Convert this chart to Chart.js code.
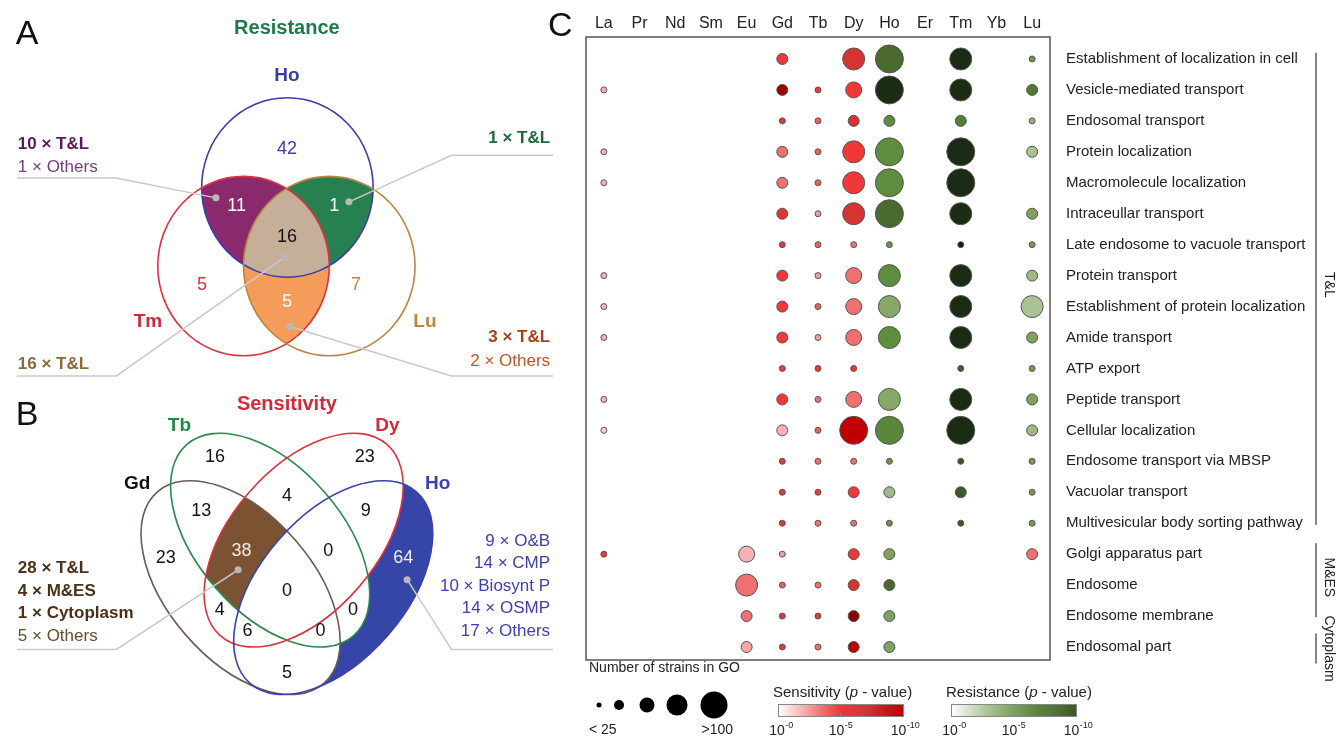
<!DOCTYPE html>
<html>
<head>
<meta charset="utf-8">
<script src="https://cdn.jsdelivr.net/npm/chart.js@4.4.1/dist/chart.umd.min.js"></script>
<style>
  body { margin: 0; background: #fff; width: 1340px; height: 736px; overflow: hidden; position: relative; }
  #bubble { position: absolute; left: 540px; top: 0; }
  #venn { position: absolute; left: 0; top: 0; }
</style>
</head>
<body>
<canvas id="bubble" width="800" height="736"></canvas>
<canvas id="venn" width="560" height="736"></canvas>
<script>
const FAMILY = '"Liberation Sans", Arial, Helvetica, sans-serif';

// ---------- panel A: resistance venn (Ho, Tm, Lu) ----------
// regions: Ho only, Tm only, Lu only, Ho&Tm, Ho&Lu, Tm&Lu, all three
const resCounts = [42, 5, 7, 11, 1, 5, 16];
const resNoteHoTm = ['10 × T&L', '1 × Others'];
const resNoteHoLu = ['1 × T&L'];
const resNoteAll = ['16 × T&L'];
const resNoteTmLu = ['3 × T&L', '2 × Others'];

// ---------- panel B: sensitivity venn (Gd, Tb, Dy, Ho) ----------
// regions: Gd, Tb, Dy, Ho, Gd&Tb, Tb&Dy, Dy&Ho, Gd&Dy, Tb&Ho, Gd&Ho,
//          Gd&Tb&Dy, Tb&Dy&Ho, Gd&Dy&Ho, Gd&Tb&Ho, all four
const sensCounts = [23, 16, 23, 64, 13, 4, 9, 4, 0, 5, 38, 0, 6, 0, 0];
const sensNoteLeft = ['28 × T&L', '4 × M&ES', '1 × Cytoplasm', '5 × Others'];
const sensNoteRight = ['9 × O&B', '14 × CMP', '10 × Biosynt P', '14 × OSMP', '17 × Others'];

// ---------- panel C: GO enrichment bubbles ----------
const elements = ['La', 'Pr', 'Nd', 'Sm', 'Eu', 'Gd', 'Tb', 'Dy', 'Ho', 'Er', 'Tm', 'Yb', 'Lu'];
const goTerms = [
  'Establishment of localization in cell', 'Vesicle-mediated transport', 'Endosomal transport',
  'Protein localization', 'Macromolecule localization', 'Intraceullar transport',
  'Late endosome to vacuole transport', 'Protein transport', 'Establishment of protein localization',
  'Amide transport', 'ATP export', 'Peptide transport', 'Cellular localization',
  'Endosome transport via MBSP', 'Vacuolar transport', 'Multivesicular body sorting pathway',
  'Golgi apparatus part', 'Endosome', 'Endosome membrane', 'Endosomal part'
];
// size class: number of strains in GO (1 = <25 ... 5 = >100), 0 = none
// logp: -log10(p); positive = sensitivity, negative = resistance
const sizeLa = [0,1,0,1,1,0,0,1,1,1,0,1,1,0,0,0,1,0,0,0];
const logpLa = [0,2,0,2,2,0,0,2,2,2,0,2,1.2,0,0,0,5,0,0,0];
const sizeEu = [0,0,0,0,0,0,0,0,0,0,0,0,0,0,0,0,3,4,2,2];
const logpEu = [0,0,0,0,0,0,0,0,0,0,0,0,0,0,0,0,2,3.5,3.5,2.2];
const sizeGd = [2,2,1,2,2,2,1,2,2,2,1,2,2,1,1,1,1,1,1,1];
const logpGd = [5,12,6,3.5,3.5,6.5,6,5,5,5,5.5,5,2,5.5,6,6,2.5,4,6,6];
const sizeTb = [0,1,1,1,1,1,1,1,1,1,1,1,1,1,1,1,0,1,1,1];
const logpTb = [0,5.5,4,4,4,2.5,4,2.5,4,2.5,5.5,3.5,4,3.5,5.5,3.5,0,3.5,5.5,3.5];
const sizeDy = [4,3,2,4,4,4,1,3,3,3,1,3,5,1,2,1,2,2,2,2];
const logpDy = [7,5,7,5,5,7,3.5,3.5,3.5,3.5,5.5,3.5,10,3.5,5,3.5,5,7,13,10];
const sizeHo = [5,5,2,5,5,5,1,4,4,4,0,4,5,1,2,1,2,2,2,2];
const logpHo = [-9,-14,-6.5,-6.5,-6.5,-9,-6,-6.5,-4.5,-6.5,0,-4.5,-7,-6,-3.5,-6,-5,-9,-5,-5];
const sizeTm = [4,4,2,5,5,4,1,4,4,4,1,4,5,1,2,1,0,0,0,0];
const logpTm = [-14,-14,-7.5,-14,-14,-14,-15,-14,-14,-14,-10,-14,-14,-10,-10,-10,0,0,0,0];
const sizeLu = [1,2,1,2,0,2,1,2,4,2,1,2,2,1,1,1,2,0,0,0];
const logpLu = [-6,-8,-4,-3,0,-5,-5.5,-3.5,-3,-5,-5.5,-5,-3.5,-5.5,-5.5,-5.5,3.5,0,0,0];

const groupNames = ['T&L', 'M&ES', 'Cytoplasm'];

// ---------- styling ----------
const radiusOf = [0, 3, 5.5, 8, 11, 14];
const redStops = [[0,[255,255,255]],[2,[245,178,178]],[3.5,[239,112,112]],[5,[240,56,56]],[7,[214,52,52]],[10,[192,0,0]],[13,[138,0,0]]];
const greenStops = [[0,[255,255,255]],[3,[168,194,148]],[4.5,[136,168,104]],[6.5,[94,141,62]],[9,[74,106,48]],[11,[45,69,32]],[14,[28,43,19]],[15,[20,28,14]]];

function interp(stops, v) {
  if (v <= stops[0][0]) return stops[0][1];
  for (let i = 1; i < stops.length; i++) {
    if (v <= stops[i][0]) {
      const [a, ca] = stops[i - 1], [b, cb] = stops[i];
      const t = (v - a) / (b - a);
      return ca.map((c, k) => Math.round(c + (cb[k] - c) * t));
    }
  }
  return stops[stops.length - 1][1];
}
function pColor(p) {
  const c = p >= 0 ? interp(redStops, p) : interp(greenStops, -p);
  return `rgb(${c[0]},${c[1]},${c[2]})`;
}

// ================= VENN (panels A + B) =================
const deg = Math.PI / 180;
const vennA = [
  { name: 'Ho', cx: 287.5, cy: 185.5, rx: 87, ry: 91, rot: 0, stroke: '#3c3cae' },
  { name: 'Tm', cx: 243, cy: 265, rx: 87, ry: 91, rot: 0, stroke: '#e0313f' },
  { name: 'Lu', cx: 330, cy: 265, rx: 87, ry: 91, rot: 0, stroke: '#b9873f' }
];
const vennB = [
  { name: 'Gd', cx: 240, cy: 590, rx: 128.7, ry: 73.5, rot: 49 * deg, stroke: '#6b5b52' },
  { name: 'Tb', cx: 270, cy: 542, rx: 128.7, ry: 73.5, rot: 49 * deg, stroke: '#2a8a4c' },
  { name: 'Dy', cx: 304, cy: 542, rx: 128.7, ry: 73.5, rot: -49 * deg, stroke: '#e0313f' },
  { name: 'Ho', cx: 334, cy: 590, rx: 128.7, ry: 73.5, rot: -49 * deg, stroke: '#3c40b0' }
];
const posA = [[287,147],[201,284],[357,284],[236,204],[335,204],[287,301],[287,236]];
const colA = ['#3c3cae','#d8323f','#b9873f','#fff','#fff','#fff','#111'];
const posB = [[164,560],[214,458],[366,458],[405,560],[200,513],[287,497],[367,513],[219,613],[354,613],[287,676],[241,553],[329,553],[247,634],[321,634],[287,593]];

const notes = [
  { lines: resNoteHoTm, bold: [true, false], colors: ['#5c1a5e', '#7a3a80'], x: 14, ys: [142, 165], align: 'left', leader: [[13,176],[114,176],[215,196]] },
  { lines: resNoteHoLu, bold: [true], colors: ['#1d6b3c'], x: 554, ys: [136], align: 'right', leader: [[557,153],[454,153],[350,200]] },
  { lines: resNoteAll, bold: [true], colors: ['#8c6a3c'], x: 14, ys: [364], align: 'left', leader: [[13,376],[114,376],[285,256]] },
  { lines: resNoteTmLu, bold: [true, false], colors: ['#a8401c', '#c0562a'], x: 554, ys: [337, 361], align: 'right', leader: [[557,376],[454,376],[290,326]] },
  { lines: sensNoteLeft, bold: [true, true, true, false], colors: ['#4b2f17','#4b2f17','#4b2f17','#6b4a2a'], x: 14, ys: [571, 593.5, 616, 639], align: 'left', leader: [[13,652.5],[114,652.5],[237.5,572]] },
  { lines: sensNoteRight, bold: [false,false,false,false,false], colors: ['#3c40b0','#3c40b0','#3c40b0','#3c40b0','#3c40b0'], x: 554, ys: [543.6, 565.7, 589, 611, 634], align: 'right', leader: [[557,652.5],[454,652.5],[409,582]] }
];

const vennPlugin = {
  id: 'venn',
  beforeDatasetsDraw(chart) {
    const ctx = chart.ctx, sx = chart.scales.x, sy = chart.scales.y;
    const px = v => sx.getPixelForValue(v), py = v => sy.getPixelForValue(v);
    const k = px(1) - px(0);
    const path = e => { ctx.beginPath(); ctx.ellipse(px(e.cx), py(e.cy), e.rx * k, e.ry * k, e.rot, 0, 2 * Math.PI); };
    const fillIn = (sets, color) => {
      ctx.save();
      sets.forEach(e => { path(e); ctx.clip(); });
      ctx.fillStyle = color;
      ctx.fillRect(0, 0, chart.width, chart.height);
      ctx.restore();
    };
    const text = (s, x, y, font, color, align = 'center') => {
      ctx.font = font; ctx.fillStyle = color; ctx.textAlign = align; ctx.textBaseline = 'middle';
      ctx.fillText(s, px(x), py(y));
    };
    const [aHo, aTm, aLu] = vennA;
    fillIn([aTm, aLu], '#f59c5a');
    fillIn([aHo, aTm], '#8a2a6c');
    fillIn([aHo, aLu], '#27804f');
    fillIn([aHo, aTm, aLu], '#c6af98');
    ctx.lineWidth = 1.6;
    vennA.forEach(e => { path(e); ctx.strokeStyle = e.stroke; ctx.stroke(); });

    const [bGd, bTb, bDy, bHo] = vennB;
    // Ho-only region
    ctx.save();
    path(bHo); ctx.fillStyle = '#3545a8'; ctx.fill(); ctx.clip();
    ctx.fillStyle = '#fff';
    [bGd, bTb, bDy].forEach(e => { path(e); ctx.fill(); });
    ctx.restore();
    // Gd & Tb & Dy without Ho
    ctx.save();
    [bGd, bTb, bDy].forEach(e => { path(e); ctx.clip(); });
    ctx.fillStyle = '#7b5232'; ctx.fillRect(0, 0, chart.width, chart.height);
    path(bHo); ctx.fillStyle = '#fff'; ctx.fill();
    ctx.restore();
    vennB.forEach(e => { path(e); ctx.strokeStyle = e.stroke; ctx.stroke(); });

    // leader lines
    ctx.strokeStyle = '#c9c9c9'; ctx.lineWidth = 1.5;
    notes.forEach(n => {
      ctx.beginPath();
      n.leader.forEach(([x, y], i) => i ? ctx.lineTo(px(x), py(y)) : ctx.moveTo(px(x), py(y)));
      ctx.stroke();
    });

    // counts
    resCounts.forEach((c, i) => text(String(c), posA[i][0], posA[i][1], `18px ${FAMILY}`, colA[i]));
    sensCounts.forEach((c, i) => {
      const light = i === 3 || i === 10;
      text(String(c), posB[i][0], posB[i][1], `18px ${FAMILY}`, light ? '#f3ede6' : '#111');
    });

    // titles, set names, panel letters
    text('Resistance', 287, 25, `bold 20px ${FAMILY}`, '#1e7a48');
    text('Sensitivity', 287, 405, `bold 20px ${FAMILY}`, '#d42a3a');
    vennA.forEach((e, i) => {
      const p = [[287, 73], [146, 321], [427, 321]][i];
      text(e.name, p[0], p[1], `bold 19px ${FAMILY}`, i === 1 ? '#d0283a' : e.stroke);
    });
    const bLab = [[135, 485, '#111'], [178, 426, '#1f8a45'], [389, 426, '#d42a3a'], [440, 485, '#3c40b0']];
    vennB.forEach((e, i) => text(e.name, bLab[i][0], bLab[i][1], `bold 19px ${FAMILY}`, bLab[i][2]));
    text('A', 12, 31, `34px ${FAMILY}`, '#111', 'left');
    text('B', 12, 416, `34px ${FAMILY}`, '#111', 'left');

    notes.forEach(n => n.lines.forEach((s, i) =>
      text(s, n.x, n.ys[i], `${n.bold[i] ? 'bold ' : ''}17px ${FAMILY}`, n.colors[i], n.align)));
  }
};

new Chart(document.getElementById('venn'), {
  type: 'scatter',
  data: { datasets: [{
    data: notes.map(n => ({ x: n.leader[2][0], y: n.leader[2][1] })),
    pointRadius: 3.5, backgroundColor: '#b9b9b9', borderWidth: 0
  }] },
  options: {
    responsive: false, animation: false, events: [],
    layout: { padding: 0 },
    plugins: { legend: { display: false }, tooltip: { enabled: false } },
    scales: {
      x: { type: 'linear', min: 0, max: 560, display: false },
      y: { type: 'linear', min: 0, max: 736, reverse: true, display: false }
    }
  },
  plugins: [vennPlugin]
});

// ================= BUBBLE (panel C) =================
const columnData = {
  La: [sizeLa, logpLa], Eu: [sizeEu, logpEu], Gd: [sizeGd, logpGd], Tb: [sizeTb, logpTb],
  Dy: [sizeDy, logpDy], Ho: [sizeHo, logpHo], Tm: [sizeTm, logpTm], Lu: [sizeLu, logpLu]
};
const points = [];
elements.forEach((el, xi) => {
  const d = columnData[el];
  if (!d) return;
  d[0].forEach((s, yi) => {
    if (s > 0) points.push({ x: xi, y: yi, r: radiusOf[s], p: d[1][yi] });
  });
});

function drawPowerLabel(ctx, x, y, exp) {
  ctx.font = `14px ${FAMILY}`;
  const w1 = ctx.measureText('10').width;
  ctx.font = `9px ${FAMILY}`;
  const w2 = ctx.measureText(exp).width;
  const x0 = x - (w1 + w2) / 2;
  ctx.textAlign = 'left'; ctx.textBaseline = 'middle'; ctx.fillStyle = '#222';
  ctx.font = `14px ${FAMILY}`; ctx.fillText('10', x0, y);
  ctx.font = `9px ${FAMILY}`; ctx.fillText(exp, x0 + w1 + 0.5, y - 5);
}

const bubbleDecor = {
  id: 'bubbleDecor',
  afterDraw(chart) {
    const ctx = chart.ctx, a = chart.chartArea, sy = chart.scales.y;
    ctx.save();
    ctx.strokeStyle = '#555'; ctx.lineWidth = 1.5;
    ctx.strokeRect(a.left, a.top, a.right - a.left, a.bottom - a.top);

    // group brackets
    const gStart = [-0.2, 15.65, 18.56], gEnd = [15.05, 18.04, 19.53], gMid = [7.3, 16.75, 19.05];
    const bx = 776;
    ctx.strokeStyle = '#333'; ctx.lineWidth = 1.2;
    groupNames.forEach((g, i) => {
      ctx.beginPath();
      ctx.moveTo(bx, sy.getPixelForValue(gStart[i]));
      ctx.lineTo(bx, sy.getPixelForValue(gEnd[i]));
      ctx.stroke();
      ctx.save();
      ctx.translate(bx + 13, sy.getPixelForValue(gMid[i]));
      ctx.rotate(Math.PI / 2);
      ctx.font = `14px ${FAMILY}`; ctx.fillStyle = '#222';
      ctx.textAlign = 'center'; ctx.textBaseline = 'middle';
      ctx.fillText(g, 0, 0);
      ctx.restore();
    });

    // panel letter
    ctx.font = `34px ${FAMILY}`; ctx.fillStyle = '#111'; ctx.textAlign = 'left'; ctx.textBaseline = 'middle';
    ctx.fillText('C', 8, 27);

    // size legend
    ctx.font = `14px ${FAMILY}`; ctx.fillStyle = '#222';
    ctx.fillText('Number of strains in GO', 49, 668);
    const lx = [59, 79, 107, 137, 174];
    ctx.fillStyle = '#000';
    lx.forEach((x, i) => { ctx.beginPath(); ctx.arc(x, 705, radiusOf[i + 1] - 0.5, 0, 2 * Math.PI); ctx.fill(); });
    ctx.fillStyle = '#222'; ctx.font = `14px ${FAMILY}`;
    ctx.textAlign = 'left'; ctx.fillText('< 25', 49, 730);
    ctx.textAlign = 'right'; ctx.fillText('>100', 193, 730);

    // colour bars
    const bars = [
      { title: 'Sensitivity', x0: 238, x1: 363, sign: 1 },
      { title: 'Resistance', x0: 411, x1: 536, sign: -1 }
    ];
    bars.forEach(b => {
      ctx.textAlign = 'left'; ctx.textBaseline = 'middle'; ctx.fillStyle = '#222';
      ctx.font = `15px ${FAMILY}`;
      let tx = b.x0 - 5;
      const parts = [[b.title + ' (', false], ['p', true], [' - value)', false]];
      parts.forEach(([s, it]) => {
        ctx.font = `${it ? 'italic ' : ''}15px ${FAMILY}`;
        ctx.fillText(s, tx, 693);
        tx += ctx.measureText(s).width;
      });
      const g = ctx.createLinearGradient(b.x0, 0, b.x1, 0);
      for (let v = 0; v <= 10; v++) g.addColorStop(v / 10, pColor(b.sign * v));
      ctx.fillStyle = g;
      ctx.fillRect(b.x0, 704, b.x1 - b.x0, 12);
      ctx.strokeStyle = '#888'; ctx.lineWidth = 1;
      ctx.strokeRect(b.x0 + 0.5, 704.5, b.x1 - b.x0, 12);
      const mid = (b.x0 + b.x1) / 2;
      ctx.beginPath(); ctx.moveTo(mid, 713); ctx.lineTo(mid, 716); ctx.stroke();
      drawPowerLabel(ctx, b.x0 + 3, 731, '-0');
      drawPowerLabel(ctx, mid, 731, '-5');
      drawPowerLabel(ctx, b.x1 + 2, 731, '-10');
    });
    ctx.restore();
  }
};

new Chart(document.getElementById('bubble'), {
  type: 'bubble',
  data: { datasets: [{
    data: points,
    backgroundColor: c => pColor(c.raw ? c.raw.p : 0),
    borderColor: '#555',
    borderWidth: 1
  }] },
  options: {
    responsive: false, animation: false, events: [],
    layout: { padding: { left: 46, bottom: 76, top: 0, right: 0 } },
    plugins: { legend: { display: false }, tooltip: { enabled: false } },
    scales: {
      x: {
        type: 'linear', position: 'top', min: -0.5, max: 12.5,
        grid: { display: false, drawTicks: false }, border: { display: false },
        afterBuildTicks: s => { s.ticks = elements.map((_, i) => ({ value: i })); },
        afterFit: s => { s.height = 37; },
        ticks: { callback: v => elements[v], autoSkip: false, maxRotation: 0, padding: 4,
                 color: '#222', font: { size: 16, family: FAMILY } }
      },
      y: {
        type: 'linear', position: 'right', reverse: true, min: -0.71, max: 19.42,
        grid: { display: false, drawTicks: false }, border: { display: false },
        afterBuildTicks: s => { s.ticks = goTerms.map((_, i) => ({ value: i })); },
        afterFit: s => { s.width = 290; },
        ticks: { callback: v => goTerms[v], autoSkip: false, padding: 16,
                 color: '#222', font: { size: 15, family: FAMILY } }
      }
    }
  },
  plugins: [bubbleDecor]
});
</script>
</body>
</html>
